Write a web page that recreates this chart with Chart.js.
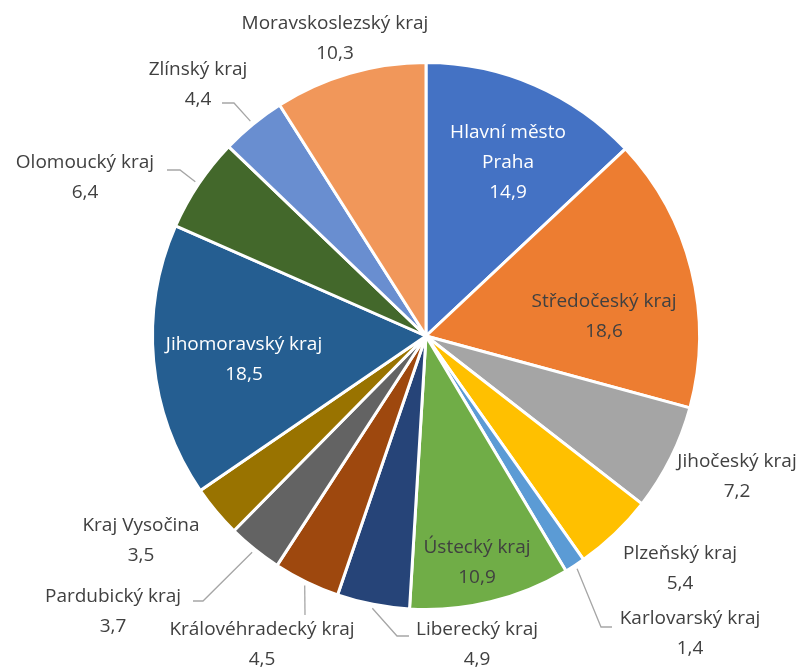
<!DOCTYPE html>
<html>
<head>
<meta charset="utf-8">
<script src="https://cdn.jsdelivr.net/npm/chart.js@4"></script>
<style>
  html, body { margin: 0; padding: 0; background: #fff; }
  #wrap { width: 808px; height: 668px; }
</style>
</head>
<body>
<div id="wrap"><canvas id="myChart" width="808" height="668"></canvas></div>
<script>
// data
const regions = [
  "Hlavní město Praha", "Středočeský kraj", "Jihočeský kraj", "Plzeňský kraj",
  "Karlovarský kraj", "Ústecký kraj", "Liberecký kraj", "Královéhradecký kraj",
  "Pardubický kraj", "Kraj Vysočina", "Jihomoravský kraj", "Olomoucký kraj",
  "Zlínský kraj", "Moravskoslezský kraj"
];
const values = [14.9, 18.6, 7.2, 5.4, 1.4, 10.9, 4.9, 4.5, 3.7, 3.5, 18.5, 6.4, 4.4, 10.3];
const colors = [
  "#4472C4", "#ED7D31", "#A5A5A5", "#FFC000", "#5B9BD5", "#70AD47", "#264478",
  "#9E480E", "#636363", "#997300", "#255E91", "#43682B", "#698ED0", "#F1975A"
];

// umístění popisků (posun od středu koláče), vodicí čáry
const labelPlace = [
  { dx: 82, dy: -203, lines: ["Hlavní město", "Praha"], color: "#fff" },
  { dx: 178, dy: -34 },
  { dx: 311, dy: 126 },
  { dx: 254, dy: 218 },
  { dx: 264, dy: 283, elbow: [175, 291], end: [186, 291] },
  { dx: 51, dy: 212 },
  { dx: 51, dy: 294, elbow: [-29, 300], end: [-17, 300] },
  { dx: -164, dy: 294, elbow: [-121, 279], end: [-121, 279] },
  { dx: -313, dy: 261, elbow: [-223, 265], end: [-233, 265] },
  { dx: -285, dy: 190 },
  { dx: -182, dy: 9, color: "#fff" },
  { dx: -341, dy: -173, elbow: [-246, -166], end: [-259, -166] },
  { dx: -228, dy: -266, elbow: [-192, -233], end: [-204, -233] },
  { dx: -91, dy: -312 }
];

const fontFamily = "'Open Sans', 'Noto Sans', sans-serif";

// plugin na popisky
const pieLabels = {
  id: "pieLabels",
  afterDraw(chart) {
    const ctx = chart.ctx;
    const arcs = chart.getDatasetMeta(0).data;
    ctx.save();
    arcs.forEach((arc, i) => {
      const p = labelPlace[i];
      const cx = arc.x, cy = arc.y;
      // vodicí čára
      if (p.elbow) {
        const mid = (arc.startAngle + arc.endAngle) / 2;
        const r = arc.outerRadius + 4;
        ctx.beginPath();
        ctx.strokeStyle = "#A6A6A6";
        ctx.lineWidth = 1.3;
        ctx.moveTo(cx + Math.cos(mid) * r, cy + Math.sin(mid) * r);
        ctx.lineTo(cx + p.elbow[0], cy + p.elbow[1]);
        ctx.lineTo(cx + p.end[0], cy + p.end[1]);
        ctx.stroke();
      }
      const lines = (p.lines || [regions[i]]).concat([String(values[i]).replace(".", ",")]);
      ctx.fillStyle = p.color || "#404040";
      ctx.font = "19px " + fontFamily;
      ctx.textAlign = "center";
      ctx.textBaseline = "middle";
      lines.forEach((t, k) => {
        ctx.fillText(t, cx + p.dx, cy + p.dy + k * 30);
      });
    });
    ctx.restore();
  }
};

const ctx = document.getElementById("myChart").getContext("2d");
const myChart = new Chart(ctx, {
  type: "pie",
  data: {
    labels: regions,
    datasets: [{
      data: values,
      backgroundColor: colors,
      borderColor: "#fff",
      borderWidth: 3
    }]
  },
  options: {
    responsive: false,
    animation: false,
    devicePixelRatio: 1,
    layout: { padding: { top: 61, bottom: 57, left: 96, right: 52 } },
    plugins: {
      legend: { display: false },
      tooltip: { enabled: false }
    }
  },
  plugins: [pieLabels]
});
</script>
</body>
</html>
